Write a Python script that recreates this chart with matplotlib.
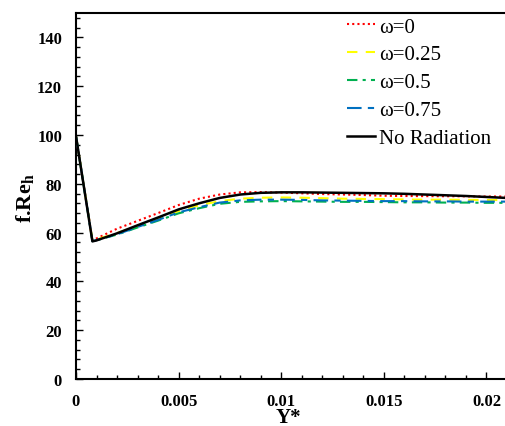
import matplotlib
matplotlib.use("Agg")
import matplotlib.pyplot as plt
from matplotlib.ticker import MultipleLocator

plt.rcParams['font.family'] = ['Liberation Serif', 'DejaVu Serif']
plt.rcParams['mathtext.fontset'] = 'custom'
plt.rcParams['mathtext.rm'] = 'Liberation Serif'
plt.rcParams['mathtext.bf'] = 'Liberation Serif:bold'

y_star = [0, 0.0008, 0.001, 0.002, 0.003, 0.004, 0.005, 0.006, 0.007, 0.008,
          0.009, 0.010, 0.011, 0.012, 0.013, 0.014, 0.015, 0.016, 0.017,
          0.018, 0.019, 0.020, 0.021]
no_rad = [99.5, 56.4, 56.8, 59.7, 63.0, 66.2, 69.5, 72.0, 74.2, 75.6,
          76.3, 76.5, 76.5, 76.4, 76.3, 76.2, 76.1, 75.9, 75.6,
          75.3, 75.0, 74.6, 74.2]
w0 = [99.5, 56.8, 57.6, 61.6, 64.8, 68.0, 71.3, 73.9, 75.6, 76.5,
      76.6, 76.4, 76.1, 75.8, 75.6, 75.4, 75.1, 75.0, 74.95,
      74.9, 74.85, 74.8, 74.8]
w025 = [99.5, 56.8, 57.2, 59.8, 62.8, 65.8, 68.8, 71.2, 72.9, 73.9,
        74.3, 74.4, 74.3, 74.1, 73.9, 73.8, 73.7, 73.6, 73.5,
        73.5, 73.4, 73.4, 73.3]
w05 = [99.5, 56.5, 56.9, 59.2, 62.1, 64.9, 67.9, 70.0, 71.8, 72.6,
       72.8, 72.9, 72.8, 72.7, 72.6, 72.6, 72.5, 72.4, 72.4,
       72.3, 72.3, 72.2, 72.2]
w075 = [99.5, 56.5, 56.9, 59.3, 62.3, 65.2, 68.3, 70.4, 72.3, 73.2,
        73.5, 73.5, 73.4, 73.2, 73.1, 73.0, 72.9, 72.9, 72.8,
        72.8, 72.7, 72.7, 72.7]

x_ticks = [0, 0.005, 0.01, 0.015, 0.02]
x_labels = ['0', '0.005', '0.01', '0.015', '0.02']
y_ticks = [0, 20, 40, 60, 80, 100, 120, 140]

W, H = 505, 427
fig = plt.figure(figsize=(W/100, H/100), dpi=100)
ax = fig.add_axes([76/W, 1-380/H, (507-76)/W, (380-14)/H])

ax.plot(y_star, w0, color='#FF0000', lw=1.5, ls=(0, (1, 1.5)), label='ω=0', zorder=3)
ax.plot(y_star, w025, color='#FFFF00', lw=1.5, ls=(0, (5, 4)), label='ω=0.25', zorder=3)
ax.plot(y_star, w05, color='#00B050', lw=1.5, ls=(0, (5, 2.5, 1.5, 2.5)), label='ω=0.5', zorder=3)
ax.plot(y_star, w075, color='#0070C0', lw=1.5, ls=(0, (7, 3, 3, 3)), label='ω=0.75', zorder=3)
ax.plot(y_star, no_rad, color='black', lw=1.8, ls='-', label='No Radiation', zorder=4)

ax.set_xlim(0, 0.021)
ax.set_ylim(0, 150)
ax.set_xticks(x_ticks)
ax.set_xticklabels(x_labels)
ax.xaxis.set_minor_locator(MultipleLocator(0.001))
ax.set_yticks(y_ticks)
ax.yaxis.set_minor_locator(MultipleLocator(4))

ax.tick_params(which='both', direction='in', width=1, labelsize=12, top=False, right=False)
ax.tick_params(which='major', length=5, pad=10)
ax.tick_params(which='minor', length=3)
for lbl in ax.get_xticklabels() + ax.get_yticklabels():
    lbl.set_fontweight('bold')
for s in ax.spines.values():
    s.set_linewidth(1.5)

ax.set_xlabel('Y*', fontsize=15, fontweight='bold')
ax.xaxis.set_label_coords((288-76)/431, -(408-380)/366)
ax.set_ylabel(r'f.Re$_\mathbf{h}$', fontsize=16, fontweight='bold')
ax.yaxis.set_label_coords((37-76)/431, (380-198)/366)

leg = ax.legend(loc='upper left', bbox_to_anchor=((347-76)/431, 1-4/366), frameon=False,
                fontsize=15, handlelength=1.35, handletextpad=0.2, labelspacing=0.4,
                borderaxespad=0, borderpad=0)

fig.savefig('out.png', dpi=100)
